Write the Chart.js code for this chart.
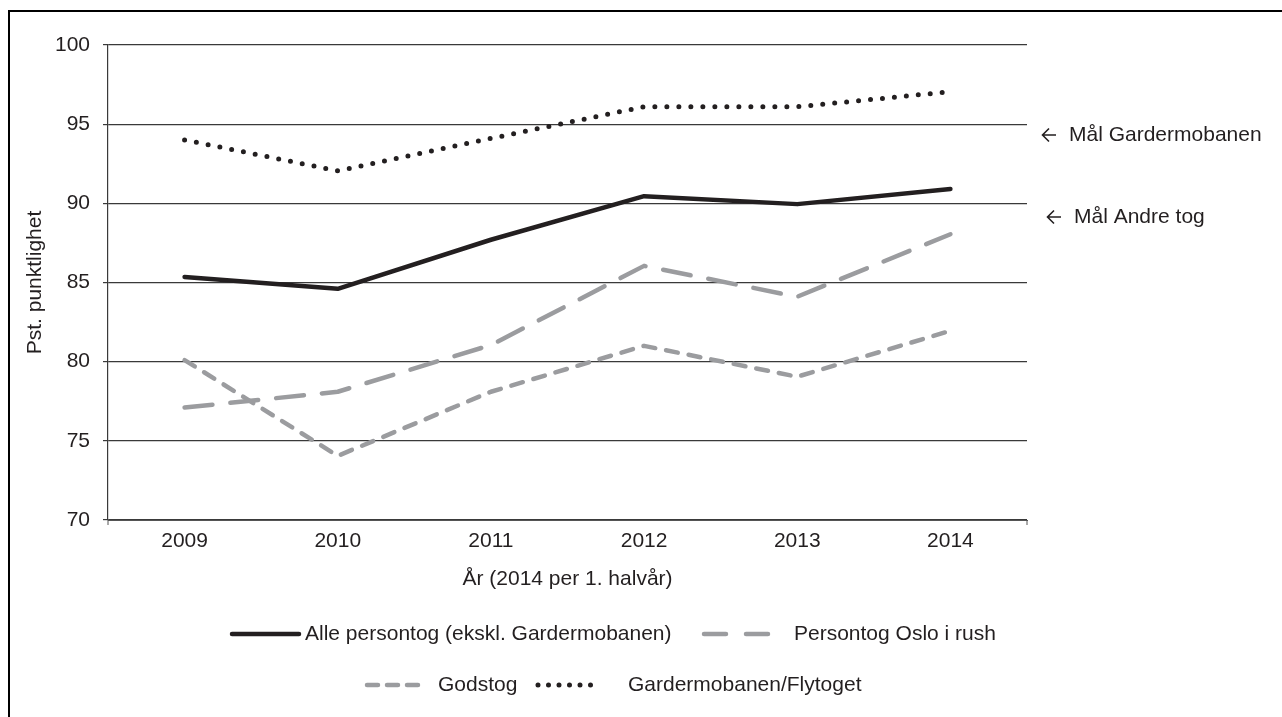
<!DOCTYPE html>
<html>
<head>
<meta charset="utf-8">
<script src="https://cdn.jsdelivr.net/npm/chart.js@4"></script>
<style>
  body { margin: 0; background: #fff; }
  #wrap { position: relative; width: 1282px; height: 717px; overflow: hidden; }
  #frame { position: absolute; left: 8px; top: 10px; width: 1400px; height: 800px;
           border-left: 2px solid #000; border-top: 2px solid #000; pointer-events: none; }
</style>
</head>
<body>
<div id="wrap">
  <canvas id="chart" width="1282" height="717"></canvas>
  <div id="frame"></div>
</div>
<script>
// data
const years = ['2009', '2010', '2011', '2012', '2013', '2014'];
const allePersontog = [85.35, 84.6, 87.7, 90.45, 89.95, 90.9];
const osloRush = [77.1, 78.1, 81.05, 86.05, 84.1, 88.05];
const godstog = [80.1, 74.05, 78.1, 81.0, 79.05, 81.95];
const gardermobanen = [94.0, 92.05, 94.1, 96.1, 96.1, 97.05];

const seriesNames = [
  'Alle persontog (ekskl. Gardermobanen)',
  'Persontog Oslo i rush',
  'Godstog',
  'Gardermobanen/Flytoget'
];
const goalLabels = ['Mål Gardermobanen', 'Mål Andre tog'];

const FONT = '"Liberation Sans", Arial, sans-serif';
const TXT = '#231f20';
const GRAY = '#9b9c9f';

// small open arrow pointing left
function arrow(c, x, y) {
  c.save();
  c.strokeStyle = TXT;
  c.lineWidth = 1.6;
  c.beginPath();
  c.moveTo(x + 14, y);
  c.lineTo(x + 1, y);
  c.moveTo(x + 7, y - 6.5);
  c.lineTo(x + 0.5, y);
  c.lineTo(x + 7, y + 6.5);
  c.stroke();
  c.restore();
}

// titles, goal notes and legend drawn by hand
const extras = {
  id: 'extras',
  afterDraw(chart) {
    const c = chart.ctx;
    const area = chart.chartArea;
    c.save();
    c.fillStyle = TXT;
    c.font = '21px ' + FONT;
    c.textBaseline = 'middle';

    // axis titles
    c.textAlign = 'center';
    c.fillText('År (2014 per 1. halvår)', (area.left + area.right) / 2, 579);
    c.save();
    c.translate(35, (area.top + area.bottom) / 2);
    c.rotate(-Math.PI / 2);
    c.fillText('Pst. punktlighet', 0, 0);
    c.restore();

    // goal notes
    c.textAlign = 'left';
    c.fillText(goalLabels[0], 1069, 135);
    c.fillText(goalLabels[1], 1074, 217);
    arrow(c, 1042, 135);
    arrow(c, 1047, 217);

    // legend
    const items = [
      { ds: 0, x0: 232, x1: 299, tx: 305, y: 634 },
      { ds: 1, x0: 704, x1: 769, tx: 794, y: 634 },
      { ds: 2, x0: 367, x1: 427, tx: 438, y: 685 },
      { ds: 3, x0: 538, x1: 592, tx: 628, y: 685 }
    ];
    items.forEach(it => {
      const ds = chart.data.datasets[it.ds];
      c.save();
      c.strokeStyle = ds.borderColor;
      c.lineWidth = ds.borderWidth;
      c.lineCap = 'round';
      c.setLineDash(ds.legendDash || []);
      c.beginPath();
      c.moveTo(it.x0, it.y);
      c.lineTo(it.x1, it.y);
      c.stroke();
      c.restore();
      c.fillText(ds.label, it.tx, it.y);
    });

    // end ticks on x axis
    c.strokeStyle = '#555';
    c.lineWidth = 1;
    c.beginPath();
    c.moveTo(area.left, area.bottom);
    c.lineTo(area.left, area.bottom + 5);
    c.moveTo(area.right, area.bottom);
    c.lineTo(area.right, area.bottom + 5);
    c.stroke();
    c.restore();
  }
};

const ctx = document.getElementById('chart').getContext('2d');
const chart = new Chart(ctx, {
  type: 'line',
  data: {
    labels: years,
    datasets: [
      {
        label: seriesNames[0],
        data: allePersontog,
        borderColor: TXT,
        borderWidth: 4.5,
        borderCapStyle: 'round',
        borderJoinStyle: 'round',
        legendDash: []
      },
      {
        label: seriesNames[1],
        data: osloRush,
        borderColor: GRAY,
        borderWidth: 4.5,
        borderDash: [28, 18],
        borderCapStyle: 'round',
        borderJoinStyle: 'round',
        legendDash: [22, 20]
      },
      {
        label: seriesNames[2],
        data: godstog,
        borderColor: GRAY,
        borderWidth: 4.5,
        borderDash: [12, 11],
        borderCapStyle: 'round',
        borderJoinStyle: 'round',
        legendDash: [11, 9]
      },
      {
        label: seriesNames[3],
        data: gardermobanen,
        borderColor: TXT,
        borderWidth: 5,
        borderDash: [0, 12],
        borderCapStyle: 'round',
        borderJoinStyle: 'round',
        legendDash: [0, 10.5]
      }
    ]
  },
  options: {
    responsive: false,
    animation: false,
    events: [],
    elements: { point: { radius: 0 }, line: { tension: 0 } },
    layout: { padding: { top: 45, right: 255, left: 0, bottom: 0 } },
    plugins: {
      legend: { display: false },
      tooltip: { enabled: false }
    },
    scales: {
      x: {
        offset: true,
        grid: { display: false, drawTicks: false },
        border: { display: true, color: '#555', width: 1 },
        ticks: { color: TXT, font: { family: FONT, size: 21 }, padding: 9, maxRotation: 0 },
        afterFit(scale) { scale.height = 197; }
      },
      y: {
        min: 70,
        max: 100,
        grid: { color: '#3a3a3a', lineWidth: 1.2, tickLength: 5, drawTicks: true },
        border: { display: true, color: '#3a3a3a', width: 1.2 },
        ticks: { stepSize: 5, color: TXT, font: { family: FONT, size: 21 }, padding: 13 },
        afterFit(scale) { scale.width = 108; }
      }
    }
  },
  plugins: [extras]
});
</script>
</body>
</html>
